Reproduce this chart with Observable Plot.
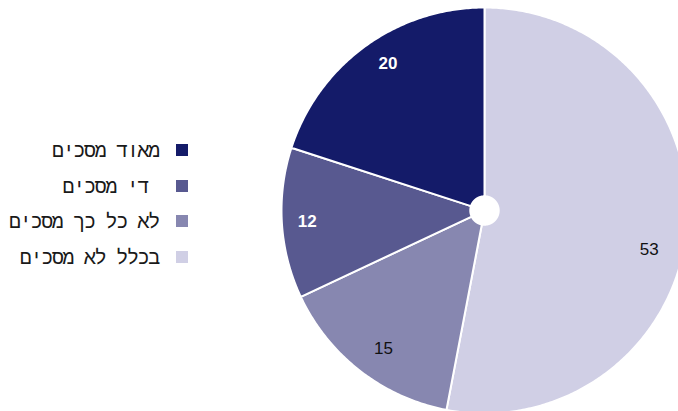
<!DOCTYPE html>
<html><head><meta charset="utf-8">
<script src="https://cdn.jsdelivr.net/npm/d3@7"></script>
<script src="https://cdn.jsdelivr.net/npm/@observablehq/plot@0.6"></script>
<style>
body{margin:0;background:#fff;}
#wrap{position:relative;width:678px;height:411px;overflow:hidden;}
#legend{position:absolute;left:0;top:0;width:678px;height:411px;pointer-events:none;}
.item{position:absolute;right:490px;display:flex;align-items:center;direction:rtl;font-family:"DejaVu Sans Mono","Liberation Mono",monospace;font-size:20px;letter-spacing:-1.3px;color:#1a1a1a;white-space:pre;}
.sw{width:12px;height:12px;margin-left:17px;}
</style></head>
<body><div id="wrap"><div id="chart"></div><div id="legend"></div></div>
<script>
// legend order (top to bottom)
const categories = ["מאוד מסכים", "די מסכים", "לא כל כך מסכים", "בכלל לא מסכים"];
const legendLabels = ["מאוד מסכים", " די מסכים", "לא כל כך מסכים", "בכלל לא מסכים"];
const colors = ["#141b69", "#585990", "#8787b0", "#d0cfe5"];
// clockwise from 12 o'clock
const pieOrder = ["בכלל לא מסכים", "לא כל כך מסכים", "די מסכים", "מאוד מסכים"];
const pieValues = [53, 15, 12, 20];

const arcs = d3.pie().sort(null).value(d => d.v)(pieOrder.map((c, i) => ({c, v: pieValues[i]})));
const inner = 0.07, outer = 1;
const pts = [];
for (const a of arcs) {
  const n = Math.max(4, Math.ceil((a.endAngle - a.startAngle) / 0.01));
  const ring = [];
  for (let k = 0; k <= n; k++) { const t = a.startAngle + (a.endAngle - a.startAngle) * k / n; ring.push([outer * Math.sin(t), outer * Math.cos(t)]); }
  for (let k = n; k >= 0; k--) { const t = a.startAngle + (a.endAngle - a.startAngle) * k / n; ring.push([inner * Math.sin(t), inner * Math.cos(t)]); }
  ring.push(ring[0]);
  for (const [x, y] of ring) pts.push({c: a.data.c, x, y});
}
const labels = arcs.map(a => {
  const m = (a.startAngle + a.endAngle) / 2, r = 0.86;
  return {c: a.data.c, v: a.data.v, x: r * Math.sin(m), y: r * Math.cos(m)};
});
const font = "Liberation Sans, Arial, sans-serif";
const lab = c => labels.filter(d => d.c === c);

const chart = Plot.plot({
  width: 678, height: 411,
  x: {domain: [-1, 1], range: [281, 687], axis: null},
  y: {domain: [-1, 1], range: [413, 7], axis: null},
  color: {domain: categories, range: colors},
  marks: [
    Plot.line(pts, {x: "x", y: "y", z: "c", fill: "c", stroke: "white", strokeWidth: 2, strokeLinejoin: "round", curve: "linear"}),
    Plot.text(lab("מאוד מסכים"), {x: "x", y: "y", text: "v", fill: "white", fontWeight: "bold", fontSize: 17, fontFamily: font, dx: 6, dy: -6}),
    Plot.text(lab("די מסכים"), {x: "x", y: "y", text: "v", fill: "white", fontWeight: "bold", fontSize: 17, fontFamily: font, dx: -3}),
    Plot.text(lab("לא כל כך מסכים"), {x: "x", y: "y", text: "v", fill: "#111", fontSize: 17, fontFamily: font, dx: 6}),
    Plot.text(lab("בכלל לא מסכים"), {x: "x", y: "y", text: "v", fill: "#111", fontSize: 17, fontFamily: font, dx: -9, dy: 23})
  ]
});
document.getElementById("chart").append(chart);

const lg = document.getElementById("legend");
const tops = [150, 186, 221, 257];
categories.forEach((c, i) => {
  const it = document.createElement("div");
  it.className = "item";
  it.style.top = (tops[i] - 12) + "px";
  it.style.height = "24px";
  const sw = document.createElement("span"); sw.className = "sw"; sw.style.background = colors[i];
  const tx = document.createElement("span"); tx.textContent = legendLabels[i];
  it.append(sw, tx);
  lg.append(it);
});
</script></body></html>
